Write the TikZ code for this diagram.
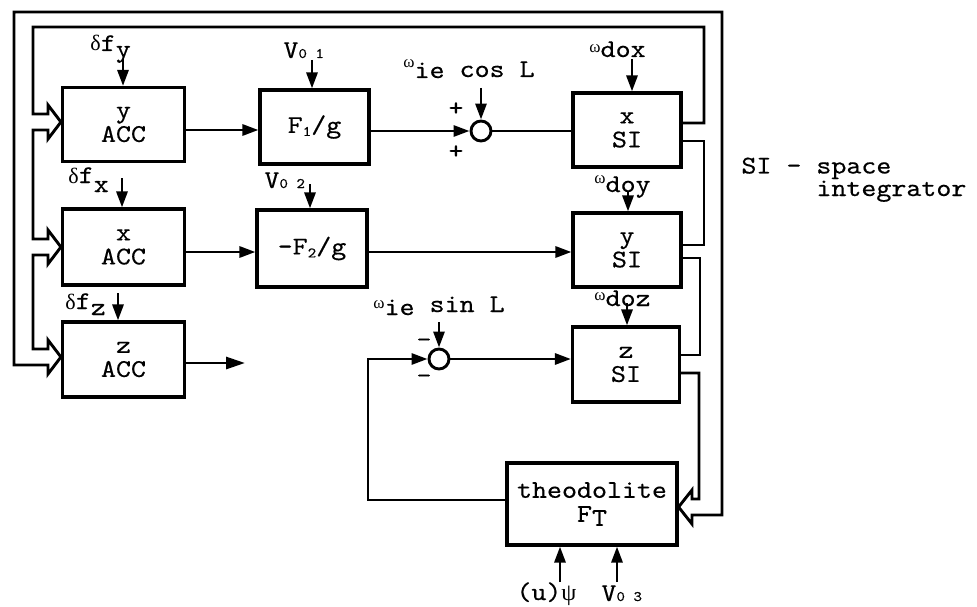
\documentclass[tikz,border=0pt]{standalone}
\usepackage{fontspec}
\usetikzlibrary{arrows.meta}
\newfontfamily\tw{lmmono10-regular.otf}[FakeStretch=1.12,FakeBold=0.4]
\newfontfamily\grk{Liberation Serif}
\newcommand\fnt{\tw\fontsize{25.5}{24}\selectfont}
\newcommand\tsm{\tw\fontsize{14.5}{15}\selectfont}
\newcommand\gsm{\grk\fontsize{17}{17}\selectfont}
\newcommand\gmd{\grk\fontsize{22}{22}\selectfont}
\begin{document}
\begin{tikzpicture}[x=1pt,y=-1pt,line width=2.9pt,
  box/.style={draw,line width=3.1pt,inner sep=0pt,align=center,font=\fnt},
  lbl/.style={inner sep=0pt,font=\fnt,anchor=base west},
  signmark/.style={inner sep=0pt,font=\fnt},
  sumc/.style={draw,circle,line width=2.9pt,minimum size=20pt,inner sep=0pt},
  arr/.style={-{Triangle[length=16pt,width=11pt]}},
  fat/.style={line join=miter}]
\useasboundingbox (0,0) rectangle (977,607);

% blocks
\node[box,minimum width=122pt,minimum height=74pt] (yacc) at (123.5,124.5) {y\\ACC};
\node[box,minimum width=122pt,minimum height=76pt] (xacc) at (123.5,247) {x\\ACC};
\node[box,minimum width=122pt,minimum height=75pt] (zacc) at (123.5,359.5) {z\\ACC};
\node[box,minimum width=109pt,minimum height=74pt] (f1) at (314.5,127) {F\raisebox{-3pt}{\tsm 1}/g};
\node[box,minimum width=110pt,minimum height=77pt] (f2) at (312,248.5) {-F\raisebox{-3pt}{\tsm 2}/g};
\node[box,minimum width=108pt,minimum height=74pt] (xsi) at (627,130) {x\\SI};
\node[box,minimum width=108pt,minimum height=74pt] (ysi) at (627,250) {y\\SI};
\node[box,minimum width=107pt,minimum height=75pt] (zsi) at (626,364.5) {z\\SI};
\node[box,minimum width=170pt,minimum height=82pt] (theo) at (592,504) {theodolite\\F\raisebox{-4pt}{T}};

% summing junctions
\node[sumc] (s1) at (481,131) {};
\node[sumc] (s2) at (439,359) {};
\node[signmark] (p1) at (456,109) {+};
\node[signmark] (p2) at (456,152) {+};
\node[signmark] (m1) at (424,343) {-};
\node[signmark] (m2) at (424,379) {-};

% labels
\node[lbl] (dfy) at (89,51) {{\gmd δ}f\raisebox{-6pt}{y}};
\node[lbl] (dfx) at (67,183) {{\gmd δ}f\raisebox{-9pt}{x}};
\node[lbl] (dfz) at (64,309) {{\gmd δ}f\raisebox{-6pt}{z}};
\node[lbl] (v01) at (282,58) {V{\tsm 0 1}};
\node[lbl] (v02) at (263,188) {V{\tsm 0 2}};
\node[lbl] (v03) at (600,601) {V{\tsm 0 3}};
\node[lbl] (cosl) at (402,77) {\raisebox{9pt}{\gsm ω}\raisebox{-1pt}{ie} cos L};
\node[lbl] (sinl) at (372,312) {\raisebox{4pt}{\gsm ω}\raisebox{-3pt}{ie} sin L};
\node[lbl] (wdox) at (588,57) {\raisebox{4pt}{\gsm ω}dox};
\node[lbl] (wdoy) at (593,192) {\raisebox{9pt}{\gsm ω}doy};
\node[lbl] (wdoz) at (593,306) {\raisebox{6pt}{\gsm ω}doz};
\node[lbl] (upsi) at (515,600) {(u){\grk\fontsize{24}{24}\selectfont ψ}};
\node[lbl,align=left,font=\tw\fontsize{25.5}{18}\selectfont] (silegend) at (740,196) {SI - space\\\phantom{SI - }integrator};

% input arrows
\coordinate (dfyA) at (123,59);
\coordinate (dfxA) at (122,178);
\coordinate (dfzA) at (118,293);
\coordinate (v01A) at (312,60);
\coordinate (v02A) at (310,184);
\coordinate (cosA) at (481,88);
\coordinate (sinA) at (439,322);
\coordinate (doxA) at (632,59);
\coordinate (doyA) at (628,191);
\coordinate (dozA) at (627,303);
\coordinate (psiA) at (560,582);
\coordinate (v03A) at (617,582);
\draw[arr] (dfyA) -- (dfyA |- yacc.north);
\draw[arr] (dfxA) -- (dfxA |- xacc.north);
\draw[arr] (dfzA) -- (dfzA |- zacc.north);
\draw[arr] (v01A) -- (v01A |- f1.north);
\draw[arr] (v02A) -- (v02A |- f2.north);
\draw[arr] (cosA) -- (s1.north);
\draw[arr] (sinA) -- (s2.north);
\draw[arr] (doxA) -- (doxA |- xsi.north);
\draw[arr] (doyA) -- (doyA |- ysi.north);
\draw[arr] (dozA) -- (dozA |- zsi.north);
\draw[arr] (psiA) -- (psiA |- theo.south);
\draw[arr] (v03A) -- (v03A |- theo.south);

% forward path
\draw[arr] (yacc.east |- 0,130) -- (f1.west |- 0,130);
\draw[arr] (f1.east |- s1.west) -- (s1.west);
\draw (s1.east) -- (xsi.west |- s1.east);
\draw[arr] (xacc.east |- 0,252) -- (f2.west |- 0,252);
\draw[arr] (f2.east |- 0,252) -- (ysi.west |- 0,252);
\coordinate (zout) at (245,363);
\draw[-{Triangle[length=19pt,width=12pt]}] (zacc.east |- zout) -- (zout);
\draw[arr] (s2.east) -- (zsi.west |- s2.east);
\draw[arr] (theo.west |- 0,500) -- (368,500) -- (368,359) -- (s2.west);

% vector feedback (fat arrows)
\draw[fat] (xsi.east |- 0,123) -- (704,123) -- (704,27) -- (33,27) -- (33,114) -- (48,114) -- (48,105) -- (yacc.west |- 0,122);
\draw[fat] (yacc.west |- 0,122) -- (48,139) -- (48,130) -- (33,130) -- (33,239) -- (48,239) -- (48,230) -- (xacc.west |- 0,247);
\draw[fat] (xacc.west |- 0,247) -- (48,264) -- (48,255) -- (33,255) -- (33,349) -- (48,349) -- (48,340) -- (zacc.west |- 0,357);
\draw[fat] (zacc.west |- 0,357) -- (48,374) -- (48,365) -- (14,365) -- (14,12) -- (722,12) -- (722,515) -- (692,515) -- (692,524) -- (theo.east |- 0,507);
\draw[fat] (xsi.east |- 0,141) -- (704,141) -- (704,245) -- (ysi.east |- 0,245);
\draw[fat] (ysi.east |- 0,258) -- (700,258) -- (700,355) -- (zsi.east |- 0,355);
\draw[fat] (zsi.east |- 0,373) -- (699,373) -- (699,499) -- (692,499) -- (692,490) -- (theo.east |- 0,507);
\end{tikzpicture}
\end{document}
